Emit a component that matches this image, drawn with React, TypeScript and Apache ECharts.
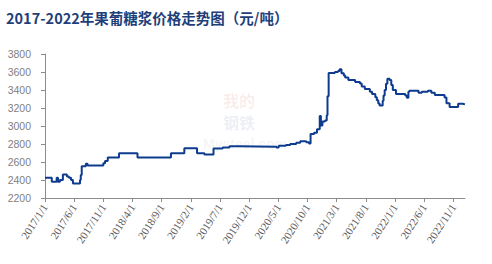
import React, { useEffect, useRef } from "react";
import * as echarts from "echarts";

const titleText = "2017-2022年果葡糖浆价格走势图（元/吨）";

const dates = [
  "2017-01-01", "2017-02-06", "2017-03-01", "2017-03-08", "2017-03-18", "2017-04-03", "2017-04-24", "2017-05-04",
  "2017-05-15", "2017-05-25", "2017-07-01", "2017-07-05", "2017-07-10", "2017-08-01", "2017-08-10", "2017-11-01",
  "2017-11-10", "2017-11-24", "2018-01-22", "2018-04-27", "2018-10-19", "2018-12-28", "2019-03-03", "2019-04-11",
  "2019-05-28", "2019-07-15", "2019-08-20", "2019-10-10", "2020-04-22", "2020-05-03", "2020-06-10", "2020-07-02",
  "2020-08-03", "2020-08-24", "2020-09-25", "2020-10-09", "2020-10-17", "2020-11-05", "2020-11-20", "2020-12-04",
  "2020-12-10", "2020-12-18", "2021-01-01", "2021-01-10", "2021-01-14", "2021-01-20", "2021-02-22", "2021-03-08",
  "2021-03-16", "2021-03-26", "2021-04-08", "2021-04-15", "2021-05-01", "2021-06-06", "2021-07-01", "2021-07-10",
  "2021-07-26", "2021-08-22", "2021-09-03", "2021-09-20", "2021-09-28", "2021-10-05", "2021-10-12", "2021-10-28",
  "2021-11-02", "2021-11-08", "2021-11-15", "2021-11-22", "2021-12-03", "2021-12-12", "2021-12-20", "2022-01-06",
  "2022-02-24", "2022-03-02", "2022-03-10", "2022-03-15", "2022-05-02", "2022-05-19", "2022-06-20", "2022-07-08",
  "2022-07-26", "2022-09-16", "2022-09-26", "2022-10-12", "2022-11-26", "2022-12-20", "2022-12-31",
];

const prices = [
  2425, 2380, 2425, 2380, 2400, 2462, 2440, 2425,
  2400, 2360, 2400, 2455, 2553, 2580, 2562, 2585,
  2610, 2650, 2696, 2650, 2698, 2752, 2698, 2683,
  2750, 2760, 2775, 2770, 2760, 2780, 2790, 2800,
  2815, 2830, 2820, 2805, 2910, 2925, 2965, 3110,
  3005, 3050, 3060, 3120, 3330, 3590, 3600, 3610,
  3630, 3585, 3560, 3540, 3510, 3490, 3472, 3440,
  3410, 3380, 3356, 3320, 3285, 3250, 3228, 3280,
  3340, 3400, 3470, 3525, 3510, 3455, 3400, 3356,
  3340, 3315, 3381, 3392, 3370, 3381, 3392, 3370,
  3345, 3318, 3254, 3210, 3247, 3240, 3240,
];

const tickMonths = [0, 5, 10, 15, 20, 25, 30, 35, 40, 45, 50, 55, 60, 65, 70];

function monthIndex(s: string): number {
  const [y, m, d] = s.split("-").map(Number);
  return (y - 2017) * 12 + (m - 1) + (d - 1) / 30.4;
}

function monthLabel(v: number): string {
  const idx = Math.round(v);
  const y = 2017 + Math.floor(idx / 12);
  const m = (idx % 12) + 1;
  return `${y}/${m}/1`;
}

export default function App() {
  const ref = useRef<HTMLDivElement>(null);
  useEffect(() => {
    if (!ref.current) return;
    const chart = echarts.init(ref.current, null, { renderer: "svg" });
    const data = dates.map((d, i) => [monthIndex(d), prices[i]]);
    chart.setOption({
      animation: false,
      backgroundColor: "#ffffff",
      title: {
        text: titleText,
        left: 1,
        top: 5,
        textStyle: {
          fontFamily: "Noto Sans CJK SC",
          fontSize: 14.5,
          fontWeight: "bold",
          color: "#1f3f7a",
        },
      },
      graphic: [
        {
          type: "text",
          left: 223,
          top: 92,
          z: -1,
          style: { text: "我的", font: "bold 16px 'Noto Sans CJK SC'", lineHeight: 16, fill: "rgba(215,60,60,0.10)" },
        },
        {
          type: "text",
          left: 223,
          top: 114,
          z: -1,
          style: { text: "钢铁", font: "bold 16px 'Noto Sans CJK SC'", lineHeight: 16, fill: "rgba(60,90,160,0.10)" },
        },
        {
          type: "text",
          left: 203,
          top: 137,
          z: -1,
          style: { text: "Mysteel.com", font: "bold 14px 'Liberation Sans'", lineHeight: 14, fill: "rgba(120,120,120,0.08)" },
        },
      ],
      grid: { left: 45, right: 27, top: 54, bottom: 66, containLabel: false },
      xAxis: {
        type: "value",
        min: 0,
        max: 72,
        interval: 5,
        axisLine: { show: true, lineStyle: { color: "#8c8c8c", width: 1 } },
        axisTick: { show: true, customValues: tickMonths, length: 4, lineStyle: { color: "#8c8c8c" } },
        splitLine: { show: false },
        axisLabel: {
          customValues: tickMonths,
          formatter: (v: number) => monthLabel(v),
          rotate: 57,
          margin: 7,
          fontSize: 11,
          fontFamily: "Liberation Serif",
          color: "#595959",
        },
      },
      yAxis: {
        type: "value",
        min: 2200,
        max: 3800,
        interval: 200,
        axisLine: { show: true, lineStyle: { color: "#8c8c8c", width: 1 } },
        axisTick: { show: true, length: 4, lineStyle: { color: "#8c8c8c" } },
        splitLine: { show: false },
        axisLabel: {
          margin: 14,
          fontSize: 10.5,
          fontFamily: "Liberation Sans",
          color: "#7f7f7f",
          formatter: (v: number) => String(v),
        },
      },
      series: [
        {
          type: "line",
          data,
          step: "end",
          showSymbol: false,
          symbol: "none",
          lineStyle: { color: "#0d3b8e", width: 2 },
        },
      ],
    });
    return () => chart.dispose();
  }, []);
  return <div ref={ref} style={{ width: 492, height: 264, position: "absolute", left: 0, top: 0 }} />;
}
